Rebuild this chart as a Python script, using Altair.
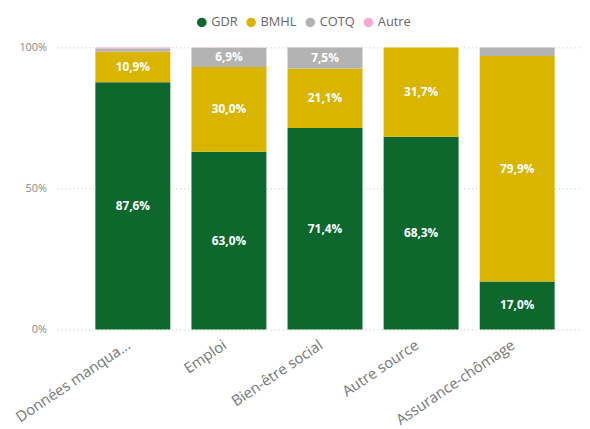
import altair as alt
import pandas as pd

categories = ["Données manquantes", "Emploi", "Bien-être social", "Autre source", "Assurance-chômage"]
series = ["GDR", "BMHL", "COTQ", "Autre"]
gdr = [87.6, 63.0, 71.4, 68.3, 17.0]
bmhl = [10.9, 30.0, 21.1, 31.7, 79.9]
cotq = [1.1, 6.9, 7.5, 0.0, 3.1]
autre = [0.4, 0.1, 0.0, 0.0, 0.0]
colors = ["#0e672c", "#dab500", "#b3b3b3", "#f2a9d8"]
y_ticks = [0, 50, 100]

rows = []
for s_i, (s, vals) in enumerate(zip(series, [gdr, bmhl, cotq, autre])):
    for c, v in zip(categories, vals):
        rows.append({"category": c, "series": s, "value": v, "order": s_i})
df = pd.DataFrame(rows)

FONT = "Open Sans"

base = alt.Chart(df).encode(
    x=alt.X(
        "category:N",
        sort=categories,
        title=None,
        scale=alt.Scale(paddingInner=0.22, paddingOuter=0.33, align=0.6),
        axis=alt.Axis(
            labelAngle=-34,
            labelAlign="right",
            labelBaseline="top",
            labelFontSize=15,
            labelColor="#777777",
            labelFont=FONT,
            labelPadding=8,
            labelOffset=-8,
            ticks=False,
            domain=False,
            grid=False,
            labelLimit=250,
            labelExpr="datum.label == 'Données manquantes' ? 'Données manqua...' : datum.label",
        ),
    )
)

bars = base.mark_bar().encode(
    y=alt.Y(
        "value:Q",
        stack="zero",
        title=None,
        scale=alt.Scale(domain=[0, 100], nice=False),
        axis=alt.Axis(
            values=y_ticks,
            labelExpr="datum.value + '%'",
            labelFontSize=11,
            labelColor="#888888",
            labelFont=FONT,
            labelPadding=11,
            ticks=False,
            domain=False,
            grid=True,
            gridDash=[1, 3],
            gridColor="#c0c0c0",
            gridWidth=1,
        ),
    ),
    color=alt.Color(
        "series:N",
        scale=alt.Scale(domain=series, range=colors),
        sort=series,
        legend=alt.Legend(
            title=None,
            orient="none",
            direction="horizontal",
            legendX=140,
            legendY=-32,
            symbolType="circle",
            symbolSize=95,
            symbolStrokeWidth=0,
            labelFontSize=13,
            labelColor="#666666",
            labelFont=FONT,
            labelOffset=3,
            columnPadding=7,
            padding=0,
        ),
    ),
    order=alt.Order("order:Q", sort="ascending"),
)

labels = (
    base.transform_window(
        cum="sum(value)",
        groupby=["category"],
        sort=[alt.SortField("order", order="ascending")],
        frame=[None, 0],
    )
    .transform_calculate(
        mid="datum.cum - datum.value / 2",
        label="replace(format(datum.value, '.1f'), '.', ',') + '%'",
    )
    .transform_filter("datum.value >= 5")
    .mark_text(color="white", fontWeight="bold", fontSize=12, font=FONT, baseline="middle")
    .encode(
        y=alt.Y("mid:Q", title=None, scale=alt.Scale(domain=[0, 100], nice=False)),
        text="label:N",
    )
)

chart = (
    alt.layer(bars, labels)
    .properties(
        width=530,
        height=286,
        padding={"left": 50, "top": 37, "right": 2, "bottom": 97},
        autosize=alt.AutoSizeParams(type="none"),
    )
    .configure_view(stroke=None)
)

chart.save("out.html", embed_options={"renderer": "svg", "actions": False})
